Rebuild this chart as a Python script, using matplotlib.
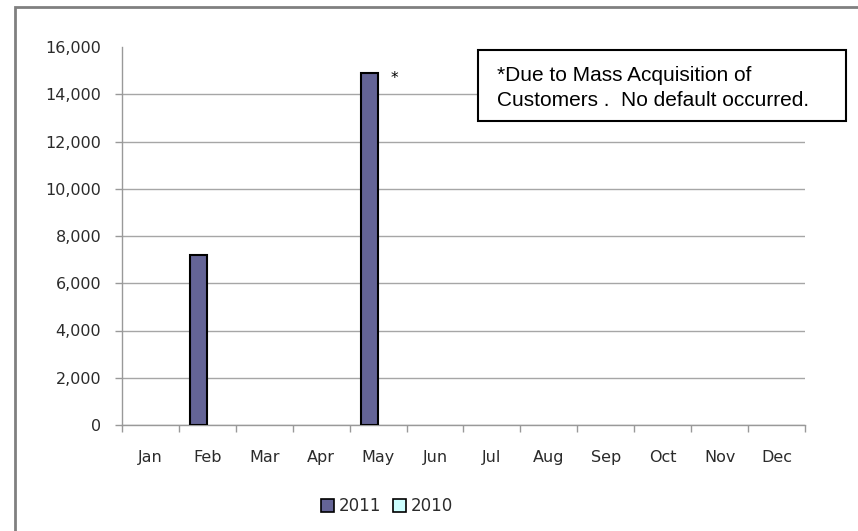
import matplotlib
matplotlib.use("Agg")
import matplotlib.pyplot as plt
import numpy as np
from matplotlib.patches import Rectangle, Patch

months = ["Jan", "Feb", "Mar", "Apr", "May", "Jun", "Jul", "Aug", "Sep", "Oct", "Nov", "Dec"]
values_2011 = [0, 7200, 0, 0, 14900, 0, 0, 0, 0, 0, 0, 0]
values_2010 = [0, 0, 0, 0, 0, 0, 0, 0, 0, 0, 0, 0]
series_names = ["2011", "2010"]
yticks = [0, 2000, 4000, 6000, 8000, 10000, 12000, 14000, 16000]
note_lines = ["*Due to Mass Acquisition of", "Customers .  No default occurred."]

W, H = 858, 531
fig = plt.figure(figsize=(W / 100, H / 100), dpi=100)
fig.patch.set_facecolor("white")

ax = fig.add_axes([122 / W, 1 - 425 / H, (805 - 122) / W, (425 - 47) / H])

c2011 = "#646496"
c2010 = "#CCFFFF"
x = np.arange(len(months))
bw = 0.3
ec2011 = ["black" if v else "none" for v in values_2011]
ec2010 = ["black" if v else "none" for v in values_2010]
ax.bar(x - bw / 2, values_2011, width=bw, color=c2011, edgecolor=ec2011, linewidth=1.5, zorder=3)
ax.bar(x + bw / 2, values_2010, width=bw, color=c2010, edgecolor=ec2010, linewidth=1.5, zorder=3)

ax.set_xlim(-0.5, len(months) - 0.5)
ax.set_ylim(0, 16000)
ax.set_yticks(yticks)
ax.set_yticklabels([f"{v:,}" for v in yticks])
ax.set_xticks(x)
ax.set_xticklabels(months)
ax.set_xticks(np.arange(len(months) + 1) - 0.5, minor=True)

txtc = "#2b2b2b"
ax.tick_params(axis="y", length=5, width=1, color="#999999", pad=10, labelsize=11.5, labelcolor=txtc)
ax.tick_params(axis="x", which="major", length=0, pad=18, labelsize=11.5, labelcolor=txtc)
ax.tick_params(axis="x", which="minor", length=5, width=1, color="#999999")

ax.grid(axis="y", color="#A6A6A6", linewidth=1, zorder=0)
ax.set_axisbelow(True)
# no gridline / tick mark at the top value
ax.yaxis.get_gridlines()[-1].set_visible(False)
ax.yaxis.get_major_ticks()[-1].tick1line.set_visible(False)
for s in ["top", "right"]:
    ax.spines[s].set_visible(False)
for s in ["left", "bottom"]:
    ax.spines[s].set_color("#999999")
    ax.spines[s].set_linewidth(1)

# asterisk next to May bar
ax.annotate("*", xy=(4, values_2011[4]), xytext=(9, -4), textcoords="offset points",
            fontsize=11, color="black", ha="left", va="center")

# note box
fig.patches.append(Rectangle((478 / W, 1 - 121 / H), 368 / W, 71 / H, transform=fig.transFigure,
                             facecolor="white", edgecolor="black", linewidth=1.5, zorder=5))
fig.text(497 / W, 1 - 81 / H, note_lines[0], family="Liberation Sans", fontsize=15,
         va="baseline", ha="left", zorder=6)
fig.text(497 / W, 1 - 106 / H, note_lines[1], family="Liberation Sans", fontsize=15,
         va="baseline", ha="left", zorder=6)

# outer chart frame
fig.patches.append(Rectangle((15 / W, -0.05), 1.2, 1 - 7 / H + 0.05, transform=fig.transFigure,
                             facecolor="none", edgecolor="#808080", linewidth=2, zorder=0))

handles = [Patch(facecolor=c2011, edgecolor="black", linewidth=1.2),
           Patch(facecolor=c2010, edgecolor="black", linewidth=1.2)]
fig.legend(handles, series_names, loc="center", bbox_to_anchor=(387 / W, 1 - 506 / H), ncol=2,
           frameon=False, fontsize=12, handlelength=0.8, handleheight=0.8, handletextpad=0.3,
           columnspacing=0.7, labelcolor=txtc, borderpad=0)

fig.savefig("out.png", dpi=100)
